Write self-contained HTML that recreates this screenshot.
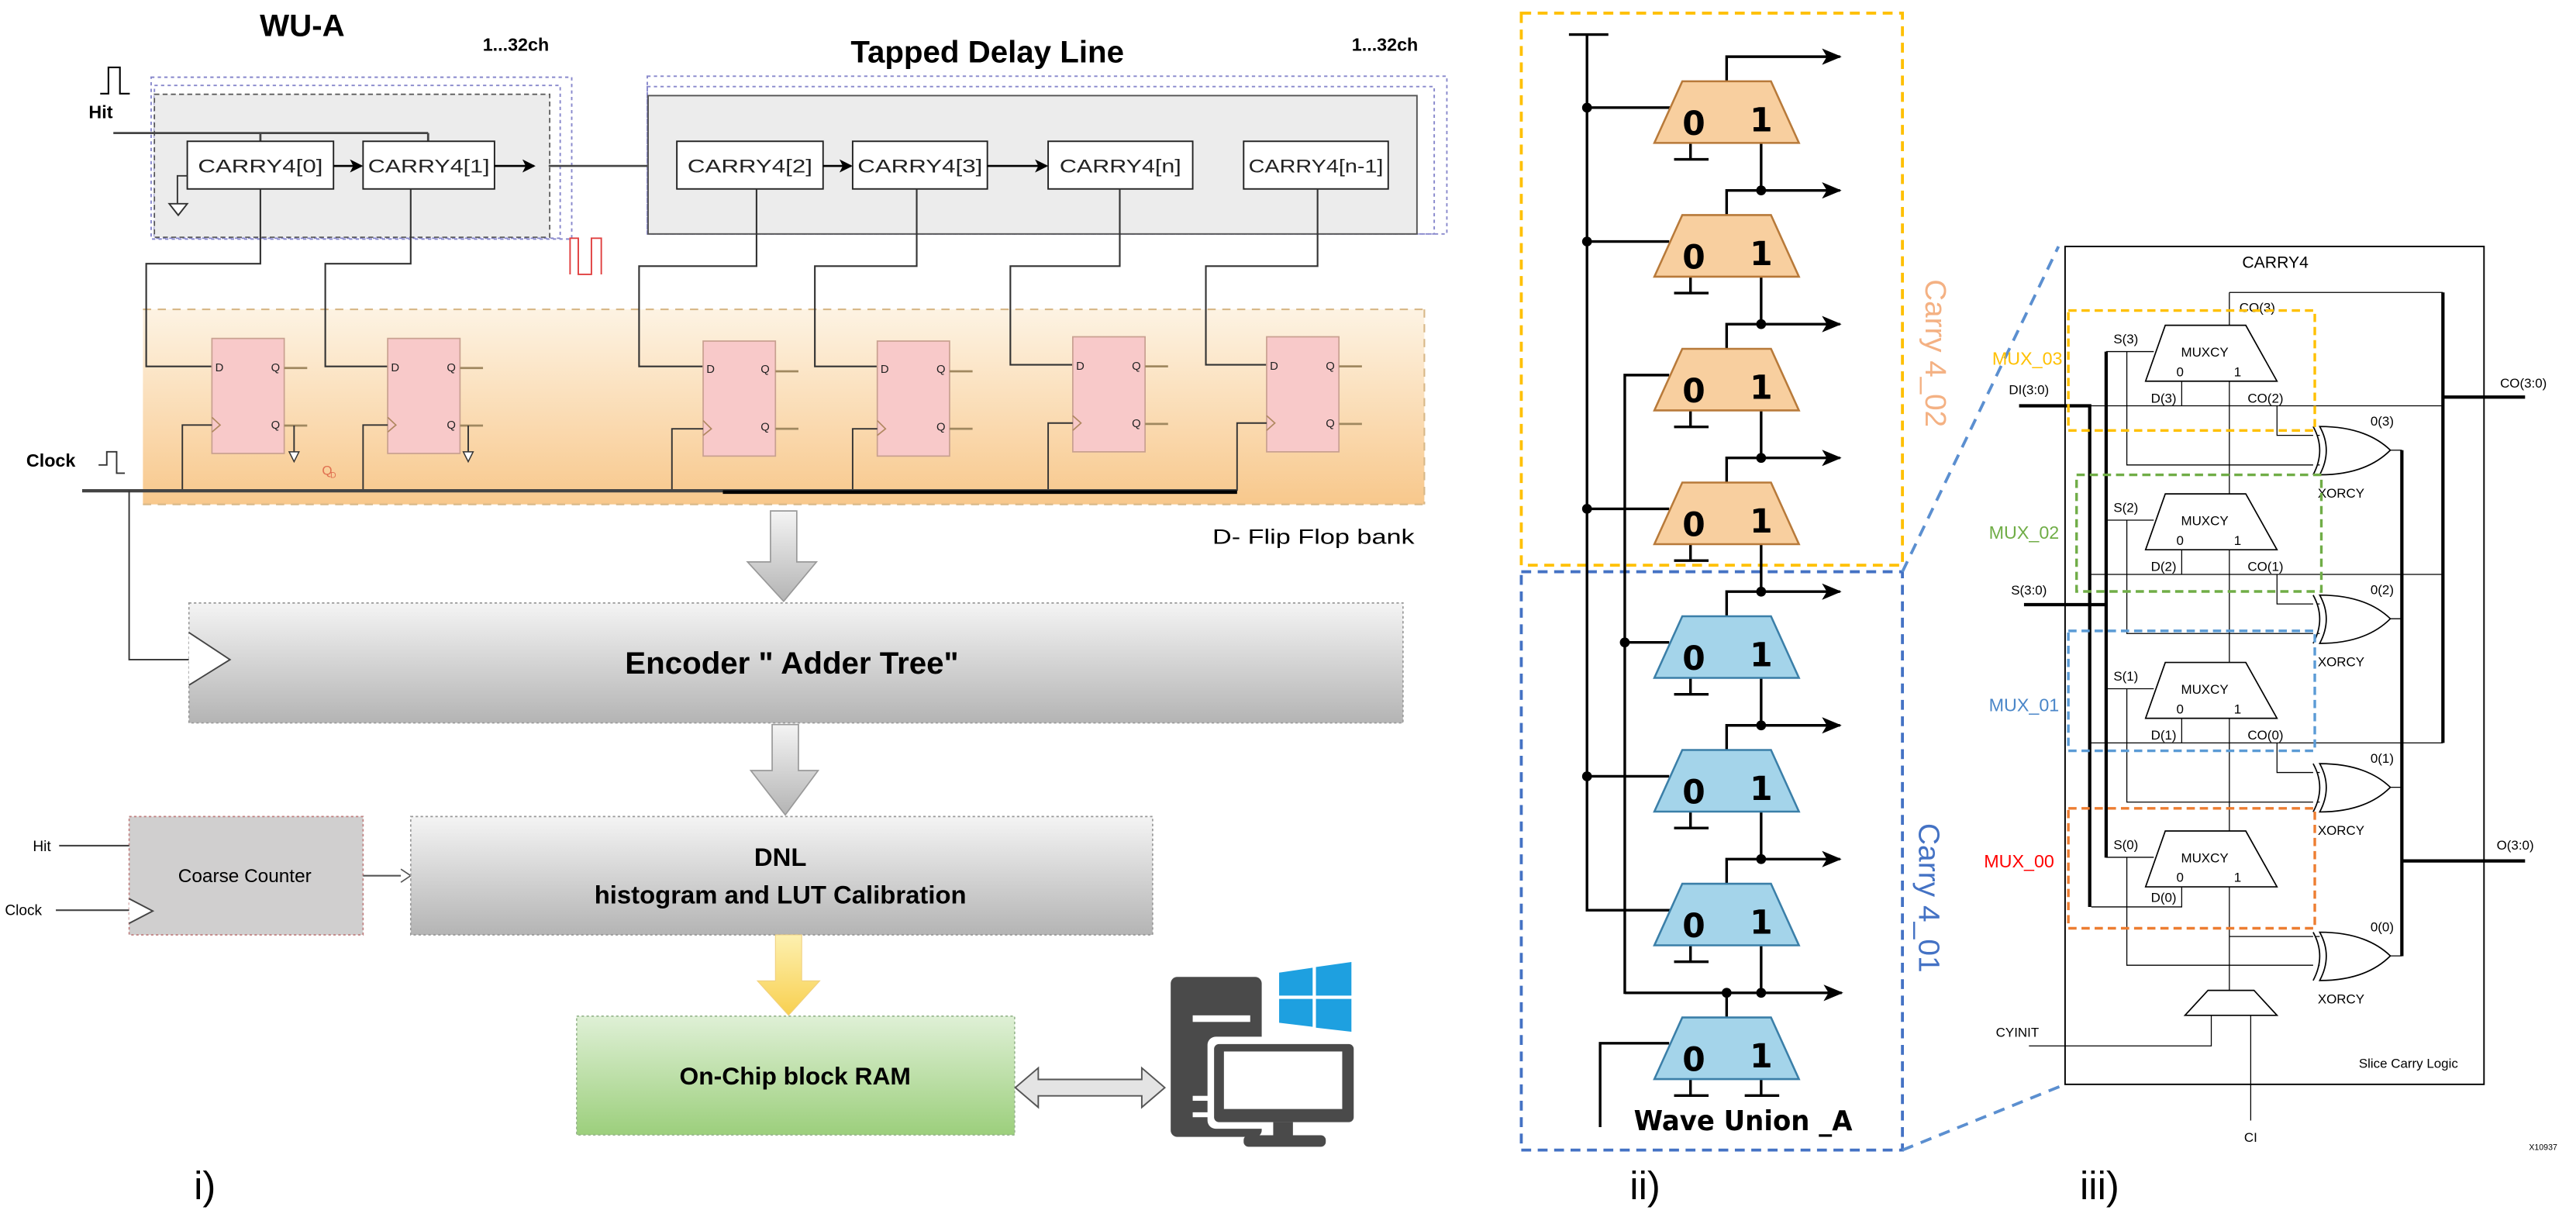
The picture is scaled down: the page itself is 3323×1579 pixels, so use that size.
<!DOCTYPE html>
<html><head><meta charset="utf-8"><style>html,body{margin:0;padding:0;background:#fff}svg{display:block}</style></head><body>
<svg width="3323" height="1579" viewBox="0 0 1568 745" preserveAspectRatio="none" xmlns="http://www.w3.org/2000/svg" font-family="Liberation Sans, Arial, sans-serif">
<defs>
<linearGradient id="og" x1="0" y1="0" x2="0" y2="1"><stop offset="0" stop-color="#fdf3e3"/><stop offset="1" stop-color="#f8c88c"/></linearGradient>
<linearGradient id="gg" x1="0" y1="0" x2="0" y2="1"><stop offset="0" stop-color="#f4f4f4"/><stop offset="1" stop-color="#b4b4b4"/></linearGradient>
<linearGradient id="rg" x1="0" y1="0" x2="0" y2="1"><stop offset="0" stop-color="#dff0d6"/><stop offset="1" stop-color="#9ccf7c"/></linearGradient>
<linearGradient id="yg" x1="0" y1="0" x2="0" y2="1"><stop offset="0" stop-color="#fdf0b0"/><stop offset="1" stop-color="#f8d050"/></linearGradient>
<marker id="ah" markerWidth="8" markerHeight="8" refX="7" refY="4" orient="auto" markerUnits="userSpaceOnUse"><path d="M0,0 L8,4 L0,8 L2,4z" fill="#000"/></marker>
<marker id="ah2" markerWidth="12" markerHeight="10" refX="11" refY="5" orient="auto" markerUnits="userSpaceOnUse"><path d="M0,0 L12,5 L0,10 L3,5z" fill="#000"/></marker>
<g id="ff"><rect x="0" y="0" width="44" height="70" fill="#f8c9c9" stroke="#c8a090" stroke-width="0.8"/></g>
</defs>

<!-- ============ PANEL i ============ -->
<text x="184" y="22" font-size="19" font-weight="bold" text-anchor="middle">WU-A</text>
<text x="314" y="31" font-size="11" font-weight="bold" text-anchor="middle">1...32ch</text>
<text x="601" y="38" font-size="19" font-weight="bold" text-anchor="middle">Tapped Delay Line</text>
<text x="843" y="31" font-size="11" font-weight="bold" text-anchor="middle">1...32ch</text>

<path d="M61,57 H66 V41 H73 V57 H79" fill="none" stroke="#000" stroke-width="1"/>
<text x="54" y="72" font-size="11" font-weight="bold">Hit</text>

<rect x="92" y="47" width="256" height="98.5" fill="none" stroke="#8888cc" stroke-width="0.9" stroke-dasharray="2,2"/>
<rect x="94" y="52" width="247" height="93" fill="none" stroke="#8888cc" stroke-width="0.9" stroke-dasharray="2,2"/>
<rect x="94" y="57.4" width="240.6" height="87" fill="#ececec" stroke="#555" stroke-width="0.8" stroke-dasharray="3,2"/>
<rect x="394" y="46.4" width="486.7" height="96" fill="none" stroke="#8888cc" stroke-width="0.9" stroke-dasharray="2,2"/>
<rect x="394" y="52.7" width="479" height="89.7" fill="none" stroke="#8888cc" stroke-width="0.9" stroke-dasharray="2,2"/>
<rect x="394.5" y="58.2" width="468" height="84.2" fill="#ececec" stroke="#555" stroke-width="0.9"/>

<path d="M69,81 H260.6 M158.5,81 V86 M260.6,81 V86" fill="none" stroke="#444" stroke-width="1.3"/>

<g stroke="#222" stroke-width="0.9">
<rect x="114" y="86" width="89" height="29" fill="#fff"/>
<rect x="221" y="86" width="80" height="29" fill="#fff"/>
<rect x="412" y="86" width="89" height="29" fill="#fff"/>
<rect x="519" y="86" width="82" height="29" fill="#fff"/>
<rect x="638" y="86" width="88" height="29" fill="#fff"/>
<rect x="757" y="86" width="88" height="29" fill="#fff"/>
</g>
<g font-size="11.5" text-anchor="middle" fill="#222">
<text x="158.5" y="105" textLength="76" lengthAdjust="spacingAndGlyphs">CARRY4[0]</text>
<text x="261" y="105" textLength="74" lengthAdjust="spacingAndGlyphs">CARRY4[1]</text>
<text x="456.5" y="105" textLength="76" lengthAdjust="spacingAndGlyphs">CARRY4[2]</text>
<text x="560" y="105" textLength="76" lengthAdjust="spacingAndGlyphs">CARRY4[3]</text>
<text x="682" y="105" textLength="74" lengthAdjust="spacingAndGlyphs">CARRY4[n]</text>
<text x="801" y="105" textLength="82" lengthAdjust="spacingAndGlyphs">CARRY4[n-1]</text>
</g>
<g stroke="#000" stroke-width="1.2" fill="none">
<path d="M203,101 H220" marker-end="url(#ah)"/>
<path d="M301,101 H325" marker-end="url(#ah)"/>
<path d="M501,101 H518" marker-end="url(#ah)"/>
<path d="M601,101 H637" marker-end="url(#ah)"/>
</g>
<path d="M334,101 H394" stroke="#444" stroke-width="1.2"/>
<path d="M114,107 H108 V124" stroke="#333" stroke-width="0.9" fill="none"/>
<path d="M103,124 H114 L108.5,131 Z" fill="#fff" stroke="#333" stroke-width="0.9"/>

<path d="M347,167 V145 H352 V167 H360 V145 H366 V167" fill="none" stroke="#e04040" stroke-width="0.9"/>

<rect x="87" y="188.3" width="780" height="118.7" fill="url(#og)"/>
<path d="M87,188.3 H867 M87,307 H867 M867,188.3 V307" stroke="#d8b888" stroke-width="1" stroke-dasharray="5,4"/>

<g stroke="#333" stroke-width="1" fill="none">
<path d="M158.5,115 V160.5 H89 V223 H129"/>
<path d="M250,115 V160.5 H198 V223 H236"/>
<path d="M460.5,115 V162 H389 V223 H428"/>
<path d="M558,115 V162 H496 V223 H534"/>
<path d="M681.6,115 V162 H615 V222 H653"/>
<path d="M802,115 V162 H734 V222 H771"/>
</g>
<use href="#ff" x="129" y="206"/><use href="#ff" x="236" y="206"/>
<use href="#ff" x="428" y="207.6"/><use href="#ff" x="534" y="207.6"/>
<use href="#ff" x="653" y="205"/><use href="#ff" x="771" y="205"/>
<g font-size="7" fill="#222">
<text x="131" y="226">D</text><text x="165" y="226">Q</text><text x="165" y="261">Q</text>
<text x="238" y="226">D</text><text x="272" y="226">Q</text><text x="272" y="261">Q</text>
<text x="430" y="227">D</text><text x="463" y="227">Q</text><text x="463" y="262">Q</text>
<text x="536" y="227">D</text><text x="570" y="227">Q</text><text x="570" y="262">Q</text>
<text x="655" y="225">D</text><text x="689" y="225">Q</text><text x="689" y="260">Q</text>
<text x="773" y="225">D</text><text x="807" y="225">Q</text><text x="807" y="260">Q</text>
</g>
<g stroke="#a08860" stroke-width="1.3">
<path d="M173,224 H187 M173,259 H187 M280,224 H294 M280,259 H294 M472,226 H486 M472,261 H486 M578,226 H592 M578,261 H592 M697,223 H711 M697,258 H711 M815,223 H829 M815,258 H829"/>
</g>
<g fill="none" stroke="#b08860" stroke-width="0.8">
<path d="M129,254 L134,258.7 L129,263 M236,254 L241,258.7 L236,263 M428,256 L433,261 L428,265 M534,256 L539,261 L534,265 M653,253 L658,257.5 L653,262 M771,253 L776,257.5 L771,262"/>
</g>
<g stroke="#333" stroke-width="0.9" fill="none">
<path d="M111,298.7 V258.7 H129 M221,298.7 V258.7 H236 M409,298.7 V261 H428 M519,298.7 V261 H534 M638,298.7 V257.5 H653 M753,298.7 V257.5 H771"/>
<path d="M179,259 V277 M285,259 V277"/>
</g>
<path d="M176,275 H182 L179,281Z M282,275 H288 L285,281Z" fill="#fff" stroke="#333" stroke-width="0.7"/>
<path d="M50,298.7 H753" stroke="#444" stroke-width="2"/>
<path d="M440,299.5 H753" stroke="#000" stroke-width="2.2"/>
<text x="196" y="289" font-size="8" fill="#e07050">Q</text><text x="201" y="291" font-size="5" fill="#e07050">D</text>
<text x="16" y="284" font-size="11" font-weight="bold">Clock</text>
<path d="M60,283 H65 V275 H71 V288 H76" fill="none" stroke="#333" stroke-width="0.9"/>
<text x="738" y="331" font-size="12.5" textLength="123" lengthAdjust="spacingAndGlyphs">D- Flip Flop bank</text>

<path d="M78.6,298.7 V401.5 H115" stroke="#333" stroke-width="0.9" fill="none"/>

<path d="M469,311 H485 V342 H497 L477,366 L455,342 H469 Z" fill="url(#gg)" stroke="#999" stroke-width="0.8"/>
<path d="M470,441 H486 V469 H498 L478,496 L457,469 H470 Z" fill="url(#gg)" stroke="#999" stroke-width="0.8"/>

<rect x="115" y="367" width="739" height="73" fill="url(#gg)" stroke="#999" stroke-width="0.8" stroke-dasharray="1.5,1.5"/>
<path d="M115,385 L140,401.5 L115,417" fill="#fff" stroke="#444" stroke-width="0.9"/>
<text x="482" y="410" font-size="19" font-weight="bold" text-anchor="middle">Encoder " Adder Tree"</text>

<rect x="78.6" y="497" width="142.4" height="72" fill="#d0cfcf" stroke="#c08080" stroke-width="0.8" stroke-dasharray="1.5,1.5"/>
<text x="149" y="537" font-size="11.5" text-anchor="middle">Coarse Counter</text>
<text x="20" y="518" font-size="9">Hit</text>
<path d="M36,514.7 H78.6" stroke="#444" stroke-width="1"/>
<text x="3" y="557" font-size="9">Clock</text>
<path d="M34,554 H78.6" stroke="#444" stroke-width="1"/>
<path d="M78.6,547 L93,554.5 L78.6,562" fill="#fff" stroke="#444" stroke-width="0.9"/>
<path d="M221,533 H248" stroke="#555" stroke-width="1"/>
<path d="M244,529 L250,533 L244,537" fill="#fff" stroke="#555" stroke-width="0.8"/>

<rect x="250" y="497" width="451.6" height="72" fill="url(#gg)" stroke="#999" stroke-width="0.8" stroke-dasharray="1.5,1.5"/>
<text x="475" y="527" font-size="15.5" font-weight="bold" text-anchor="middle">DNL</text>
<text x="475" y="550" font-size="15.5" font-weight="bold" text-anchor="middle">histogram and LUT Calibration</text>

<path d="M472,569 H488 V597 H499 L480,618 L461,597 H472 Z" fill="url(#yg)" stroke="#f0d080" stroke-width="0.5"/>

<rect x="351" y="618.5" width="266.6" height="72.3" fill="url(#rg)" stroke="#9ab890" stroke-width="0.8" stroke-dasharray="1.5,1.5"/>
<text x="484" y="660" font-size="15" font-weight="bold" text-anchor="middle">On-Chip block RAM</text>

<path d="M618,662 L632,650 V657 H695 V650 L709,662 L695,674 V667 H632 V674 Z" fill="#e4e4e4" stroke="#555" stroke-width="0.9"/>

<rect x="712.6" y="594.6" width="55.4" height="97.4" rx="4" fill="#4a4a4a"/>
<rect x="726" y="618" width="35" height="4" fill="#fff"/>
<rect x="726" y="667" width="10" height="3" fill="#fff"/>
<rect x="726" y="677" width="10" height="3" fill="#fff"/>
<rect x="735" y="631" width="93" height="56" rx="5" fill="#fff"/>
<rect x="739" y="635.5" width="85" height="47.5" rx="3" fill="#4a4a4a"/>
<rect x="745" y="640" width="72" height="35" fill="#fff"/>
<rect x="775" y="683" width="12" height="10" fill="#4a4a4a"/>
<rect x="757" y="691" width="50" height="7" rx="3" fill="#4a4a4a"/>
<path d="M778.6,592 L799,589 V606 H778.6Z M801,588.6 L822.6,585.5 V606 H801Z M778.6,608 H799 V625 L778.6,622.5Z M801,608 H822.6 V628 L801,625.5Z" fill="#1ea0e0"/>

<text x="118" y="730" font-size="24">i)</text>

<!-- ============ PANEL ii ============ -->
<rect x="926" y="8" width="232" height="336" fill="none" stroke="#ffc000" stroke-width="1.8" stroke-dasharray="6,4"/>
<rect x="926" y="348" width="232" height="352" fill="none" stroke="#4472c4" stroke-width="1.8" stroke-dasharray="6,4"/>
<path d="M1158,348 L1253,150 M1158,700 L1257,660" stroke="#5b8fd0" stroke-width="1.8" stroke-dasharray="7,5" fill="none"/>

<g stroke="#000" stroke-width="1.6" fill="none">
<path d="M955,21 H979 M966,21 V554 H1017"/>
<path d="M989,605 V228.3 H1016"/>
<path d="M966,65.5 H1017 M966,147 H1016 M966,309.7 H1016 M989,391 H1016 M966,472.5 H1016"/>
<path d="M974,686 V635 H1016"/>
<path d="M989,604.3 H1120"/>
</g>
<g fill="#000">
<circle cx="966" cy="65.5" r="3"/><circle cx="966" cy="147" r="3"/><circle cx="966" cy="309.7" r="3"/>
<circle cx="989" cy="391" r="3"/><circle cx="966" cy="472.5" r="3"/>
</g>

<g stroke="#000" stroke-width="1.6" fill="none">
<path d="M1051,49.5 V34.5 H1120" marker-end="url(#ah2)"/>
<path d="M1029,87 V97 M1019,97 H1040"/>
<path d="M1072,87 V115.9 M1051,130.9 V115.9 H1120" marker-end="url(#ah2)"/>
<path d="M1029,168.4 V178.4 M1019,178.4 H1040"/>
<path d="M1072,168.4 V197.3 M1051,212.3 V197.3 H1120" marker-end="url(#ah2)"/>
<path d="M1029,249.8 V259.8 M1019,259.8 H1040"/>
<path d="M1072,249.8 V278.7 M1051,293.7 V278.7 H1120" marker-end="url(#ah2)"/>
<path d="M1029,331.2 V341.2 M1019,341.2 H1040"/>
<path d="M1072,331.2 V360.1 M1051,375.1 V360.1 H1120" marker-end="url(#ah2)"/>
<path d="M1029,412.6 V422.6 M1019,422.6 H1040"/>
<path d="M1072,412.6 V441.5 M1051,456.5 V441.5 H1120" marker-end="url(#ah2)"/>
<path d="M1029,494 V504 M1019,504 H1040"/>
<path d="M1072,494 V522.9 M1051,537.9 V522.9 H1120" marker-end="url(#ah2)"/>
<path d="M1029,575.4 V585.4 M1019,585.4 H1040"/>
<path d="M1072,575.4 V604.3 M1051,619.3 V604.3 M1120,604.3 H1121" marker-end="url(#ah2)"/>
<path d="M1029,656.8 V666.8 M1019,666.8 H1040 M1072,656.8 V666.8 M1062,666.8 H1083"/>
</g>
<g fill="#000">
<circle cx="1072" cy="115.9" r="3"/><circle cx="1072" cy="197.3" r="3"/><circle cx="1072" cy="278.7" r="3"/>
<circle cx="1072" cy="360.1" r="3"/><circle cx="1072" cy="441.5" r="3"/><circle cx="1072" cy="522.9" r="3"/>
<circle cx="1072" cy="604.3" r="3"/><circle cx="1051" cy="604.3" r="3"/>
</g>
<g stroke-width="1.2">
<polygon points="1024,49.5 1078,49.5 1095,87 1007,87" fill="#f8cf9f" stroke="#b87a3a"/>
<polygon points="1024,130.9 1078,130.9 1095,168.4 1007,168.4" fill="#f8cf9f" stroke="#b87a3a"/>
<polygon points="1024,212.3 1078,212.3 1095,249.8 1007,249.8" fill="#f8cf9f" stroke="#b87a3a"/>
<polygon points="1024,293.7 1078,293.7 1095,331.2 1007,331.2" fill="#f8cf9f" stroke="#b87a3a"/>
<polygon points="1024,375.1 1078,375.1 1095,412.6 1007,412.6" fill="#a4d4ea" stroke="#3b7fa8"/>
<polygon points="1024,456.5 1078,456.5 1095,494 1007,494" fill="#a4d4ea" stroke="#3b7fa8"/>
<polygon points="1024,537.9 1078,537.9 1095,575.4 1007,575.4" fill="#a4d4ea" stroke="#3b7fa8"/>
<polygon points="1024,619.3 1078,619.3 1095,656.8 1007,656.8" fill="#a4d4ea" stroke="#3b7fa8"/>
</g>
<g font-size="20" font-weight="bold" text-anchor="middle" font-family="DejaVu Sans, sans-serif">
<text x="1031" y="82">0</text><text x="1072" y="80">1</text>
<text x="1031" y="163.4">0</text><text x="1072" y="161.4">1</text>
<text x="1031" y="244.8">0</text><text x="1072" y="242.8">1</text>
<text x="1031" y="326.2">0</text><text x="1072" y="324.2">1</text>
<text x="1031" y="407.6">0</text><text x="1072" y="405.6">1</text>
<text x="1031" y="489">0</text><text x="1072" y="487">1</text>
<text x="1031" y="570.4">0</text><text x="1072" y="568.4">1</text>
<text x="1031" y="651.8">0</text><text x="1072" y="649.8">1</text>
</g>
<text x="1061" y="688" font-size="17" font-weight="bold" text-anchor="middle" font-family="DejaVu Sans, sans-serif" textLength="133" lengthAdjust="spacingAndGlyphs">Wave Union _A</text>
<text transform="translate(1172,170) rotate(90)" font-size="18" fill="#f4b183" textLength="90" lengthAdjust="spacingAndGlyphs">Carry 4_02</text>
<text transform="translate(1168,501) rotate(90)" font-size="18" fill="#4472c4" textLength="91" lengthAdjust="spacingAndGlyphs">Carry 4_01</text>
<text x="992" y="730" font-size="24">ii)</text>

<!-- ============ PANEL iii ============ -->
<rect x="1257" y="150" width="255" height="510" fill="#fff" stroke="#000" stroke-width="0.9"/>
<text x="1385" y="163" font-size="10" text-anchor="middle">CARRY4</text>
<g stroke="#000" fill="none" stroke-width="0.6">
<path d="M1357,178 H1487 M1357,178 V603"/>
<path d="M1272,247 H1487 M1272,349.6 H1487 M1272,452.2 H1487 M1273,552 H1328 V540"/>
<path d="M1328,232 V247 M1328,334.6 V349.6 M1328,437.2 V452.2"/>
<path d="M1282,214 H1311 M1282,316.6 H1311 M1282,419.2 H1311 M1282,521.8 H1311"/>
<path d="M1294.6,214 V283 H1412 M1294.6,316.6 V385.6 H1412 M1294.6,419.2 V488.2 H1412 M1294.6,521.8 V587.5 H1412"/>
<path d="M1386,247 V265 H1412 M1386,349.6 V367.6 H1412 M1386,452.2 V470.2 H1412 M1357,570 H1412"/>
<path d="M1455,274 H1462 M1455,376.6 H1462 M1455,479.2 H1462 M1455,581.8 H1462"/>
<path d="M1235,636.6 H1346 V618 M1370,618 V682"/>
</g>
<g stroke="#000" fill="none" stroke-width="2">
<path d="M1487,178 V452.2 M1487,241.7 H1537 M1462,274 V582 M1462,524 H1537 M1229,247 H1272 V552 M1232,368 H1282 M1282,214 V522"/>
</g>
<g fill="#fff" stroke="#000" stroke-width="0.8">
<polygon points="1318,198 1367,198 1386,232 1306,232"/>
<polygon points="1318,300.6 1367,300.6 1386,334.6 1306,334.6"/>
<polygon points="1318,403.2 1367,403.2 1386,437.2 1306,437.2"/>
<polygon points="1318,505.8 1367,505.8 1386,539.8 1306,539.8"/>
<polygon points="1344,602.8 1372,602.8 1386,618 1330,618"/>
</g>
<g fill="#fff" stroke="#000" stroke-width="0.8">
<path d="M1412,259.6 Q1440,259.6 1455,274 Q1440,289 1412,289 Q1420,274 1412,259.6Z M1408,259.6 Q1416,274 1408,289"/>
<path d="M1412,362.2 Q1440,362.2 1455,376.6 Q1440,391.6 1412,391.6 Q1420,376.6 1412,362.2Z M1408,362.2 Q1416,376.6 1408,391.6"/>
<path d="M1412,464.8 Q1440,464.8 1455,479.2 Q1440,494.2 1412,494.2 Q1420,479.2 1412,464.8Z M1408,464.8 Q1416,479.2 1408,494.2"/>
<path d="M1412,567.4 Q1440,567.4 1455,581.8 Q1440,596.8 1412,596.8 Q1420,581.8 1412,567.4Z M1408,567.4 Q1416,581.8 1408,596.8"/>
</g>
<g font-size="8" text-anchor="middle">
<text x="1342" y="217">MUXCY</text><text x="1327" y="229">0</text><text x="1362" y="229">1</text>
<text x="1342" y="319.6">MUXCY</text><text x="1327" y="331.6">0</text><text x="1362" y="331.6">1</text>
<text x="1342" y="422.2">MUXCY</text><text x="1327" y="434.2">0</text><text x="1362" y="434.2">1</text>
<text x="1342" y="524.8">MUXCY</text><text x="1327" y="536.8">0</text><text x="1362" y="536.8">1</text>
<text x="1294" y="209">S(3)</text><text x="1294" y="311.6">S(2)</text><text x="1294" y="414.2">S(1)</text><text x="1294" y="516.8">S(0)</text>
<text x="1317" y="245">D(3)</text><text x="1317" y="347.6">D(2)</text><text x="1317" y="450.2">D(1)</text><text x="1317" y="549">D(0)</text>
<text x="1379" y="245">CO(2)</text><text x="1379" y="347.6">CO(1)</text><text x="1379" y="450.2">CO(0)</text>
<text x="1374" y="190">CO(3)</text>
<text x="1450" y="259">0(3)</text><text x="1450" y="361.6">0(2)</text><text x="1450" y="464.2">0(1)</text><text x="1450" y="566.8">0(0)</text>
<text x="1425" y="303">XORCY</text><text x="1425" y="405.6">XORCY</text><text x="1425" y="508.2">XORCY</text><text x="1425" y="610.8">XORCY</text>
<text x="1235" y="240">DI(3:0)</text><text x="1235" y="362">S(3:0)</text>
<text x="1536" y="236">CO(3:0)</text><text x="1531" y="517">O(3:0)</text>
<text x="1228" y="631">CYINIT</text><text x="1370" y="695">CI</text>
<text x="1466" y="650">Slice Carry Logic</text>
</g>
<text x="1548" y="700" font-size="5" text-anchor="middle">X10937</text>
<g fill="none" stroke-width="1.6" stroke-dasharray="5,3">
<rect x="1259" y="189" width="150" height="73" stroke="#ffc000"/>
<rect x="1264" y="289" width="149" height="71" stroke="#70ad47"/>
<rect x="1259" y="384" width="150" height="73" stroke="#5b9bd5"/>
<rect x="1259" y="492" width="150" height="73" stroke="#ed7d31"/>
</g>
<g font-size="11" text-anchor="middle">
<text x="1234" y="222" fill="#ffc000">MUX_03</text>
<text x="1232" y="328" fill="#70ad47">MUX_02</text>
<text x="1232" y="433" fill="#4a86c8">MUX_01</text>
<text x="1229" y="528" fill="#ff0000">MUX_00</text>
</g>
<text x="1266" y="730" font-size="24">iii)</text>
</svg>
</body></html>
